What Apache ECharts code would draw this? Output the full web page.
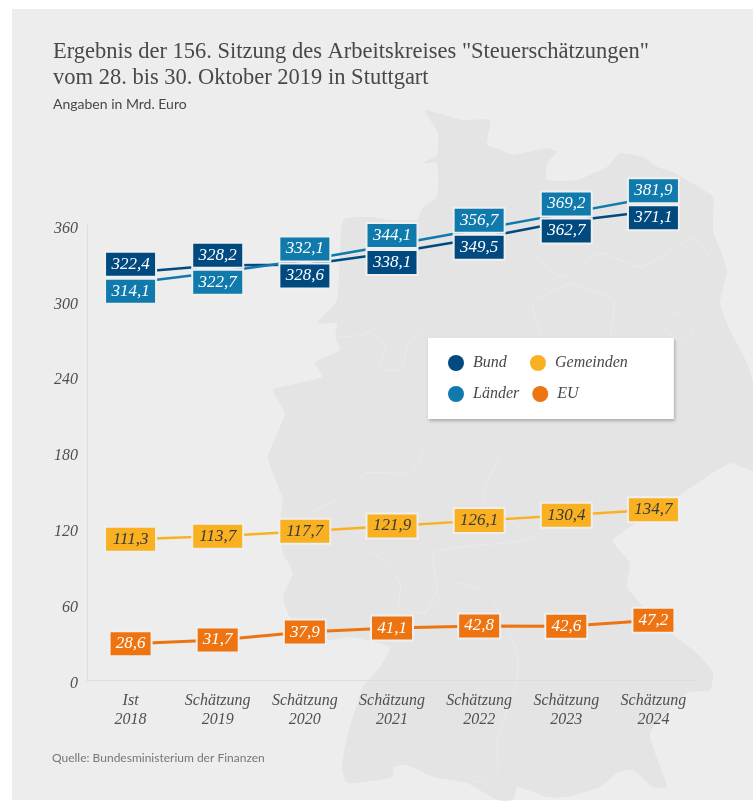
<!DOCTYPE html>
<html>
<head>
<meta charset="utf-8">
<style>html,body{margin:0;padding:0;background:#fff}#c{width:753px;height:801px}</style>
<script src="https://cdn.jsdelivr.net/npm/echarts@6/dist/echarts.min.js"></script>
</head>
<body>
<div id="c"></div>
<script>
const categories = ['Ist\n2018','Schätzung\n2019','Schätzung\n2020','Schätzung\n2021','Schätzung\n2022','Schätzung\n2023','Schätzung\n2024'];
const bund = [322.4,328.2,328.6,338.1,349.5,362.7,371.1];
const laender = [314.1,322.7,332.1,344.1,356.7,369.2,381.9];
const gemeinden = [111.3,113.7,117.7,121.9,126.1,130.4,134.7];
const eu = [28.6,31.7,37.9,41.1,42.8,42.6,47.2];

const SERIF = '"Liberation Serif", serif';
const SANS = 'Lato, "Noto Sans", sans-serif';
const BG = '#ededed';
const MAP = '#e4e4e5';
const GRID = {left:87, top:225, width:610, height:455};
const AXIS_MAX = 360;
const PX_PER_UNIT = GRID.height / AXIS_MAX;
const HALF_STACK = 13.5;

const germany = [[425,110],[463,120],[490,120],[487,145],[502,150],[513,155],[547,148],[557,152],[547,163],[547,180],[577,180],[607,167],[620,153],[643,157],[657,167],[673,172],[690,182],[713,197],[713,230],[727,270],[720,303],[730,330],[747,363],[753,383],[753,470],[730,463],[677,497],[613,540],[630,563],[627,587],[663,627],[697,653],[713,673],[710,690],[687,693],[650,733],[667,787],[653,787],[633,770],[617,773],[600,787],[567,797],[547,797],[517,787],[513,800],[497,800],[467,783],[433,777],[407,765],[393,767],[393,777],[347,783],[342,767],[347,737],[363,687],[380,667],[390,647],[350,637],[330,640],[310,628],[290,617],[283,597],[293,573],[283,553],[280,520],[283,500],[268,457],[285,413],[273,390],[322,377],[315,363],[340,350],[335,337],[337,323],[317,323],[337,300],[343,220],[370,217],[390,220],[417,220],[423,207],[437,197],[437,163],[423,163],[437,155],[438,133]];
const borders = [
  [[335,337],[365,335],[367,330],[385,345],[380,368],[400,370],[410,340],[425,330]],
  [[530,247],[560,277],[600,253],[640,267],[677,247],[693,237],[710,257]],
  [[570,283],[533,303],[543,337]],
  [[570,283],[613,300],[610,337]],
  [[663,327],[677,313],[693,333],[680,340],[663,327]],
  [[410,440],[423,450],[410,473],[367,473],[340,497],[310,513]],
  [[367,550],[383,560],[400,583],[400,607],[423,613],[447,590],[453,583],[483,590],[497,607],[517,653],[517,680],[497,740],[497,773],[470,783]],
  [[500,457],[483,500],[533,537],[463,547],[433,553],[437,590],[423,617]]
];

function box(color, textColor, width) {
  return {
    show:true, position:'inside', color:textColor, backgroundColor:color,
    fontFamily:SERIF, fontStyle:'italic', fontSize:17, width:width, height:23, lineHeight:23,
    align:'center', verticalAlign:'middle', borderColor:'#efefef', borderWidth:2,
    formatter:p => String(p.value).replace('.', ',')
  };
}
// The paired Bund/Länder boxes are stacked around the midpoint of the two values.
function stacked(values, others) {
  return values.map((v,i) => {
    const dir = v >= others[i] ? -1 : 1;
    const dy = (v - others[i]) / 2 * PX_PER_UNIT + dir * HALF_STACK;
    return {value:v, label:{offset:[0, dy]}};
  });
}
function line(name, data, color, textColor, boxWidth, lw) {
  return {
    name, type:'line', data, clip:false, symbol:'circle', showSymbol:true,
    symbolSize:1, itemStyle:{color}, lineStyle:{color, width:lw},
    label:box(color, textColor, boxWidth),
    animation:false, emphasis:{disabled:true}
  };
}
const series = [
  line('Bund', stacked(bund, laender), '#004a80', '#ffffff', 49, 2.5),
  line('Länder', stacked(laender, bund), '#0f7aab', '#ffffff', 49, 2.5),
  line('Gemeinden', gemeinden, '#f9b122', '#3a3a3a', 49, 2.5),
  line('EU', eu, '#ee7411', '#ffffff', 40, 3)
];

const chart = echarts.init(document.getElementById('c'), null, {renderer:'canvas'});
chart.setOption({
  animation:false,
  backgroundColor:'#ffffff',
  graphic:[
    {type:'rect', silent:true, z:-20, shape:{x:12,y:9,width:741,height:791}, style:{fill:BG}},
    {type:'polygon', silent:true, z:-19, shape:{points:germany, smooth:0.15}, style:{fill:MAP}},
    ...borders.map(b => ({type:'polyline', silent:true, z:-18, shape:{points:b, smooth:0.2}, style:{stroke:'#ebebeb', lineWidth:1, fill:null}}))
  ],
  title:[
    {left:53, top:39, padding:0, text:'Ergebnis der 156. Sitzung des Arbeitskreises "Steuerschätzungen"\nvom 28. bis 30. Oktober 2019 in Stuttgart',
     textStyle:{fontFamily:SERIF, fontWeight:'normal', fontSize:22.5, lineHeight:26, color:'#484848'}},
    {left:53, top:96, padding:0, text:'Angaben in Mrd. Euro',
     textStyle:{fontFamily:SANS, fontWeight:'normal', fontSize:14, lineHeight:16, color:'#484848'}},
    {left:52, top:751, padding:0, text:'Quelle: Bundesministerium der Finanzen',
     textStyle:{fontFamily:SANS, fontWeight:'normal', fontSize:12, lineHeight:15, color:'#777777'}}
  ],
  legend:{
    left:428, top:338, orient:'horizontal', width:190,
    data:['Bund','Gemeinden','Länder','EU'],
    icon:'circle', itemWidth:16, itemHeight:16, itemGap:13,
    padding:[16,46,16,20], backgroundColor:'#ffffff',
    shadowColor:'rgba(0,0,0,0.25)', shadowBlur:3, shadowOffsetX:1, shadowOffsetY:2,
    selectedMode:false,
    textStyle:{fontFamily:SERIF, fontStyle:'italic', fontSize:16, lineHeight:18, width:44, padding:[0,0,0,4], color:'#484848'}
  },
  grid:{...GRID, containLabel:false},
  xAxis:{
    type:'category', data:categories, boundaryGap:true,
    axisLine:{lineStyle:{color:'#dddddd', width:1}}, axisTick:{show:false},
    axisLabel:{fontFamily:SERIF, fontStyle:'italic', fontSize:16, lineHeight:19, margin:11, color:'#505050', interval:0}
  },
  yAxis:{
    type:'value', min:0, max:AXIS_MAX, interval:60,
    axisLine:{show:true, lineStyle:{color:'#dddddd', width:1}}, axisTick:{show:false}, splitLine:{show:false},
    axisLabel:{fontFamily:SERIF, fontStyle:'italic', fontSize:16, margin:9, color:'#505050', verticalAlign:'top', lineHeight:7}
  },
  series
});
</script>
</body>
</html>
